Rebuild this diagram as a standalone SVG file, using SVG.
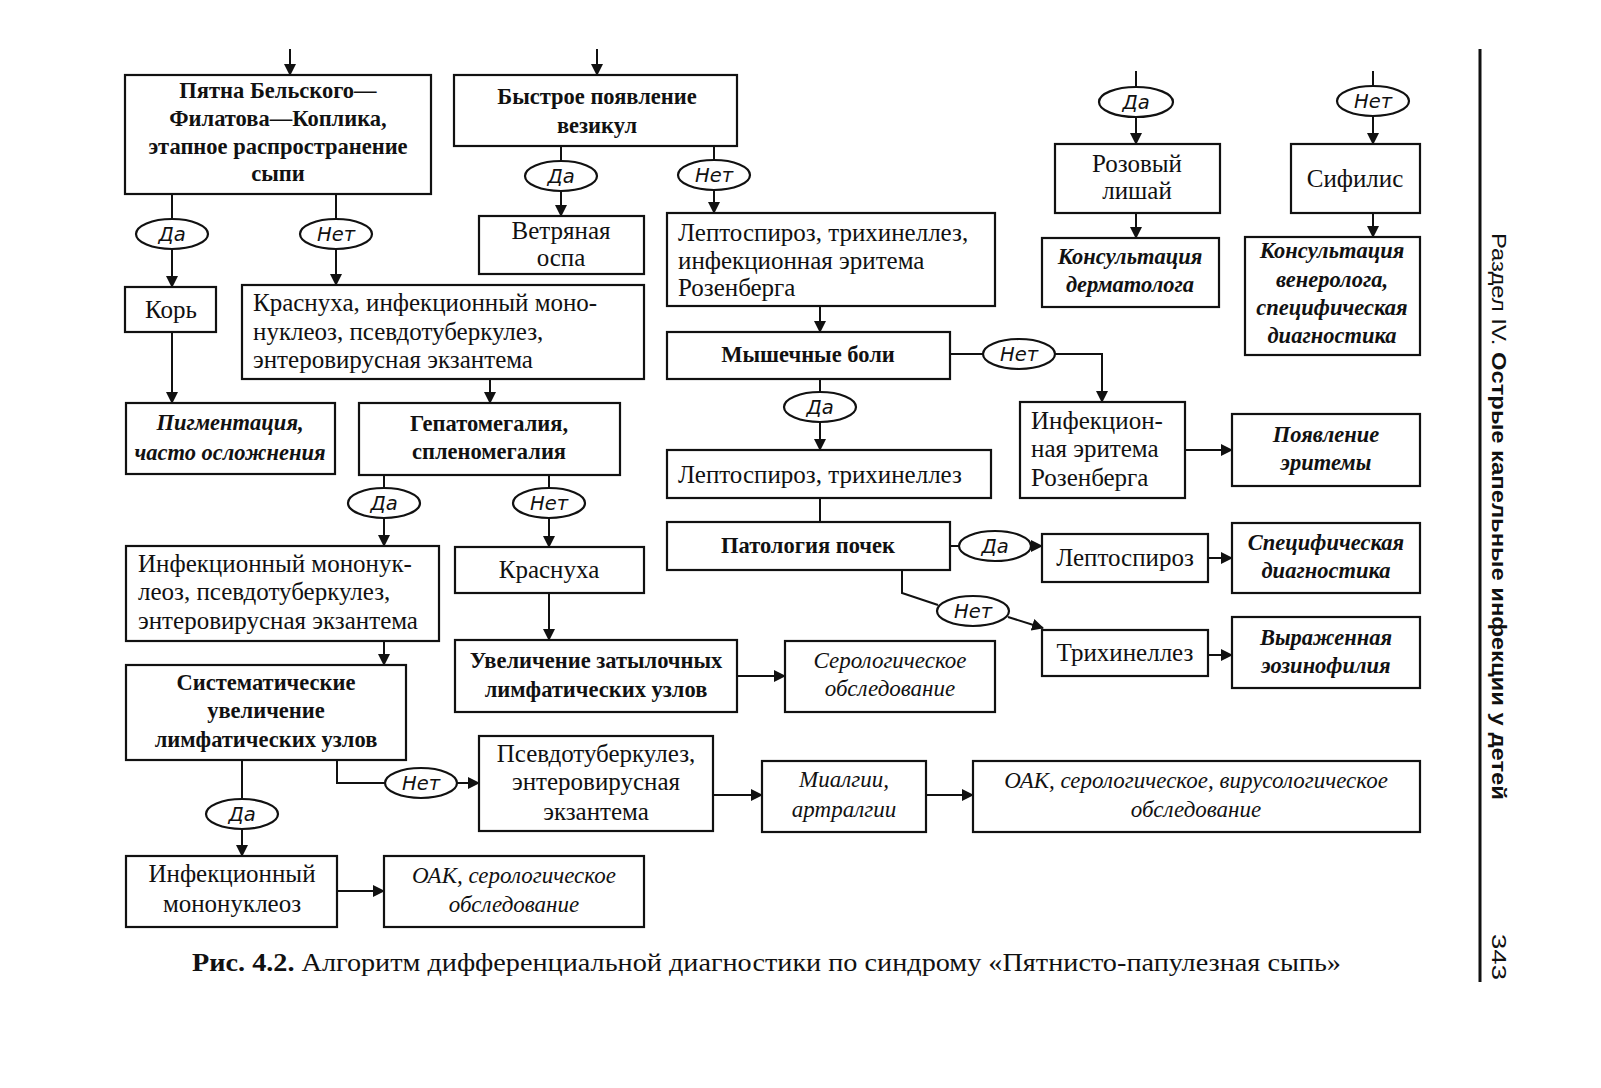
<svg xmlns="http://www.w3.org/2000/svg" width="1601" height="1088" viewBox="0 0 1601 1088">
<defs>
<marker id="ar" markerUnits="userSpaceOnUse" markerWidth="12" markerHeight="12" refX="11" refY="6" orient="auto">
<path d="M0,0 L12,6 L0,12 z" fill="#111"/>
</marker>
<style>
.bx{fill:#fff;stroke:#111;stroke-width:2.2}
.el{fill:#fff;stroke:#111;stroke-width:2.2}
.c{fill:none;stroke:#111;stroke-width:2}
.a{fill:none;stroke:#111;stroke-width:2;marker-end:url(#ar)}
text{fill:#111}
.t{font-family:"Liberation Serif",serif;font-size:25px}
.tb{font-family:"Liberation Serif",serif;font-size:22.5px;font-weight:bold}
.ti{font-family:"Liberation Serif",serif;font-size:23px;font-style:italic}
.tbi{font-family:"Liberation Serif",serif;font-size:22.5px;font-style:italic;font-weight:bold}
.m{text-anchor:middle}
.lb{font-family:"DejaVu Sans",sans-serif;font-size:19.5px;font-style:oblique;text-anchor:middle}
.hd{font-family:"Liberation Sans",sans-serif;font-size:21px}
</style>
</defs>
<rect width="1601" height="1088" fill="#fff"/>

<g id="connectors">
<line class="a" x1="290" y1="49" x2="290" y2="75"/>
<line class="a" x1="597" y1="49" x2="597" y2="75"/>
<line class="c" x1="172" y1="194" x2="172" y2="219"/>
<line class="a" x1="172" y1="249" x2="172" y2="287"/>
<line class="c" x1="336" y1="194" x2="336" y2="219"/>
<line class="a" x1="336" y1="249" x2="336" y2="285"/>
<line class="c" x1="561" y1="146" x2="561" y2="161"/>
<line class="a" x1="561" y1="191" x2="561" y2="216"/>
<line class="c" x1="714" y1="146" x2="714" y2="160"/>
<line class="a" x1="714" y1="190" x2="714" y2="213"/>
<line class="a" x1="172" y1="332" x2="172" y2="403"/>
<line class="a" x1="490" y1="379" x2="490" y2="403"/>
<line class="c" x1="384" y1="475" x2="384" y2="488"/>
<line class="a" x1="384" y1="518" x2="384" y2="546"/>
<line class="c" x1="549" y1="475" x2="549" y2="488"/>
<line class="a" x1="549" y1="518" x2="549" y2="547"/>
<line class="a" x1="384" y1="641" x2="384" y2="665"/>
<line class="a" x1="549" y1="593" x2="549" y2="640"/>
<line class="a" x1="737" y1="676" x2="785" y2="676"/>
<line class="c" x1="242" y1="760" x2="242" y2="799"/>
<line class="a" x1="242" y1="829" x2="242" y2="856"/>
<polyline class="c" points="337,760 337,783 385,783"/>
<line class="a" x1="457" y1="783" x2="479" y2="783"/>
<line class="a" x1="713" y1="795" x2="762" y2="795"/>
<line class="a" x1="926" y1="795" x2="973" y2="795"/>
<line class="a" x1="337" y1="891" x2="384" y2="891"/>
<line class="a" x1="820" y1="306" x2="820" y2="332"/>
<line class="c" x1="950" y1="354" x2="983" y2="354"/>
<polyline class="a" points="1055,354 1102,354 1102,402"/>
<line class="c" x1="820" y1="379" x2="820" y2="392"/>
<line class="a" x1="820" y1="422" x2="820" y2="450"/>
<line class="c" x1="820" y1="498" x2="820" y2="522"/>
<line class="c" x1="950" y1="546" x2="959" y2="546"/>
<line class="a" x1="1031" y1="546" x2="1042" y2="546"/>
<polyline class="c" points="902,570 902,593 938,605"/>
<line class="a" x1="1008" y1="617" x2="1043" y2="628"/>
<line class="a" x1="1185" y1="450" x2="1232" y2="450"/>
<line class="a" x1="1208" y1="558" x2="1232" y2="558"/>
<line class="a" x1="1208" y1="655" x2="1232" y2="655"/>
<line class="c" x1="1136" y1="71" x2="1136" y2="88"/>
<line class="a" x1="1136" y1="117" x2="1136" y2="144"/>
<line class="a" x1="1136" y1="213" x2="1136" y2="238"/>
<line class="c" x1="1373" y1="71" x2="1373" y2="87"/>
<line class="a" x1="1373" y1="116" x2="1373" y2="144"/>
<line class="a" x1="1373" y1="213" x2="1373" y2="237"/>
</g>

<g id="n1"><rect class="bx" x="125" y="75" width="306" height="119"/>
<text class="tb m"><tspan x="278" y="98">Пятна Бельского—</tspan><tspan x="278" y="126">Филатова—Коплика,</tspan><tspan x="278" y="154">этапное распространение</tspan><tspan x="278" y="181">сыпи</tspan></text></g>
<g id="n2"><rect class="bx" x="454" y="75" width="283" height="71"/>
<text class="tb m"><tspan x="597" y="104">Быстрое появление</tspan><tspan x="597" y="133">везикул</tspan></text></g>
<g id="n3"><rect class="bx" x="479" y="216" width="165" height="58"/>
<text class="t m"><tspan x="561" y="239">Ветряная</tspan><tspan x="561" y="266">оспа</tspan></text></g>
<g id="n4"><rect class="bx" x="667" y="213" width="328" height="93"/>
<text class="t"><tspan x="678" y="241">Лептоспироз, трихинеллез,</tspan><tspan x="678" y="269">инфекционная эритема</tspan><tspan x="678" y="296">Розенберга</tspan></text></g>
<g id="n5"><rect class="bx" x="125" y="287" width="91" height="45"/>
<text class="t m" x="171" y="318">Корь</text></g>
<g id="n6"><rect class="bx" x="242" y="285" width="402" height="94"/>
<text class="t"><tspan x="253" y="311">Краснуха, инфекционный моно-</tspan><tspan x="253" y="340">нуклеоз,  псевдотуберкулез,</tspan><tspan x="253" y="368">энтеровирусная экзантема</tspan></text></g>
<g id="n7"><rect class="bx" x="126" y="403" width="209" height="71"/>
<text class="tbi m"><tspan x="230" y="430">Пигментация,</tspan><tspan x="230" y="460">часто осложнения</tspan></text></g>
<g id="n8"><rect class="bx" x="359" y="403" width="261" height="72"/>
<text class="tb m"><tspan x="489" y="431">Гепатомегалия,</tspan><tspan x="489" y="459">спленомегалия</tspan></text></g>
<g id="n9"><rect class="bx" x="667" y="332" width="283" height="47"/>
<text class="tb m" x="808" y="362">Мышечные боли</text></g>
<g id="n10"><rect class="bx" x="667" y="450" width="324" height="48"/>
<text class="t" x="678" y="483">Лептоспироз, трихинеллез</text></g>
<g id="n11"><rect class="bx" x="667" y="522" width="283" height="48"/>
<text class="tb m" x="808" y="553">Патология почек</text></g>
<g id="n12"><rect class="bx" x="1020" y="402" width="165" height="96"/>
<text class="t"><tspan x="1031" y="429">Инфекцион-</tspan><tspan x="1031" y="457">ная эритема</tspan><tspan x="1031" y="486">Розенберга</tspan></text></g>
<g id="n13"><rect class="bx" x="1232" y="414" width="188" height="72"/>
<text class="tbi m"><tspan x="1326" y="442">Появление</tspan><tspan x="1326" y="470">эритемы</tspan></text></g>
<g id="n14"><rect class="bx" x="1042" y="534" width="166" height="48"/>
<text class="t m" x="1125" y="566">Лептоспироз</text></g>
<g id="n15"><rect class="bx" x="1232" y="523" width="188" height="70"/>
<text class="tbi m"><tspan x="1326" y="550">Специфическая</tspan><tspan x="1326" y="578">диагностика</tspan></text></g>
<g id="n16"><rect class="bx" x="1042" y="630" width="166" height="46"/>
<text class="t m" x="1125" y="661">Трихинеллез</text></g>
<g id="n17"><rect class="bx" x="1232" y="617" width="188" height="71"/>
<text class="tbi m"><tspan x="1326" y="645">Выраженная</tspan><tspan x="1326" y="673">эозинофилия</tspan></text></g>
<g id="n18"><rect class="bx" x="126" y="546" width="313" height="95"/>
<text class="t"><tspan x="138" y="572">Инфекционный мононук-</tspan><tspan x="138" y="600">леоз,  псевдотуберкулез,</tspan><tspan x="138" y="629">энтеровирусная экзантема</tspan></text></g>
<g id="n19"><rect class="bx" x="455" y="547" width="189" height="46"/>
<text class="t m" x="549" y="578">Краснуха</text></g>
<g id="n20"><rect class="bx" x="126" y="665" width="280" height="95"/>
<text class="tb m"><tspan x="266" y="690">Систематические</tspan><tspan x="266" y="718">увеличение</tspan><tspan x="266" y="747">лимфатических узлов</tspan></text></g>
<g id="n21"><rect class="bx" x="455" y="640" width="282" height="72"/>
<text class="tb m"><tspan x="596" y="668">Увеличение затылочных</tspan><tspan x="596" y="697">лимфатических узлов</tspan></text></g>
<g id="n22"><rect class="bx" x="785" y="641" width="210" height="71"/>
<text class="ti m"><tspan x="890" y="668">Серологическое</tspan><tspan x="890" y="696">обследование</tspan></text></g>
<g id="n23"><rect class="bx" x="479" y="736" width="234" height="95"/>
<text class="t m"><tspan x="596" y="762">Псевдотуберкулез,</tspan><tspan x="596" y="790">энтеровирусная</tspan><tspan x="596" y="820">экзантема</tspan></text></g>
<g id="n24"><rect class="bx" x="762" y="761" width="164" height="71"/>
<text class="ti m"><tspan x="844" y="787">Миалгии,</tspan><tspan x="844" y="817">артралгии</tspan></text></g>
<g id="n25"><rect class="bx" x="973" y="761" width="447" height="71"/>
<text class="ti m"><tspan x="1196" y="788">ОАК, серологическое, вирусологическое</tspan><tspan x="1196" y="817">обследование</tspan></text></g>
<g id="n26"><rect class="bx" x="126" y="856" width="211" height="71"/>
<text class="t m"><tspan x="232" y="882">Инфекционный</tspan><tspan x="232" y="912">мононуклеоз</tspan></text></g>
<g id="n27"><rect class="bx" x="384" y="856" width="260" height="71"/>
<text class="ti m"><tspan x="514" y="883">ОАК, серологическое</tspan><tspan x="514" y="912">обследование</tspan></text></g>
<g id="n28"><rect class="bx" x="1055" y="144" width="165" height="69"/>
<text class="t m"><tspan x="1137" y="172">Розовый</tspan><tspan x="1137" y="199">лишай</tspan></text></g>
<g id="n29"><rect class="bx" x="1042" y="238" width="177" height="69"/>
<text class="tbi m"><tspan x="1130" y="264">Консультация</tspan><tspan x="1130" y="292">дерматолога</tspan></text></g>
<g id="n30"><rect class="bx" x="1291" y="144" width="129" height="69"/>
<text class="t m" x="1355" y="187">Сифилис</text></g>
<g id="n31"><rect class="bx" x="1245" y="237" width="175" height="118"/>
<text class="tbi m"><tspan x="1332" y="258">Консультация</tspan><tspan x="1332" y="287">венеролога,</tspan><tspan x="1332" y="315">специфическая</tspan><tspan x="1332" y="343">диагностика</tspan></text></g>

<g id="e1"><ellipse class="el" cx="172" cy="234" rx="36" ry="15"/><text class="lb" x="172" y="241">Да</text></g>
<g id="e2"><ellipse class="el" cx="336" cy="234" rx="36" ry="15"/><text class="lb" x="336" y="241">Нет</text></g>
<g id="e3"><ellipse class="el" cx="561" cy="176" rx="36" ry="15"/><text class="lb" x="561" y="183">Да</text></g>
<g id="e4"><ellipse class="el" cx="714" cy="175" rx="36" ry="15"/><text class="lb" x="714" y="182">Нет</text></g>
<g id="e5"><ellipse class="el" cx="1136" cy="102" rx="37" ry="15"/><text class="lb" x="1136" y="109">Да</text></g>
<g id="e6"><ellipse class="el" cx="1373" cy="101" rx="36" ry="15"/><text class="lb" x="1373" y="108">Нет</text></g>
<g id="e7"><ellipse class="el" cx="1019" cy="354" rx="36" ry="15"/><text class="lb" x="1019" y="361">Нет</text></g>
<g id="e8"><ellipse class="el" cx="820" cy="407" rx="36" ry="15"/><text class="lb" x="820" y="414">Да</text></g>
<g id="e9"><ellipse class="el" cx="384" cy="503" rx="36" ry="15"/><text class="lb" x="384" y="510">Да</text></g>
<g id="e10"><ellipse class="el" cx="549" cy="503" rx="36" ry="15"/><text class="lb" x="549" y="510">Нет</text></g>
<g id="e11"><ellipse class="el" cx="995" cy="546" rx="36" ry="15"/><text class="lb" x="995" y="553">Да</text></g>
<g id="e12"><ellipse class="el" cx="973" cy="611" rx="36" ry="15"/><text class="lb" x="973" y="618">Нет</text></g>
<g id="e13"><ellipse class="el" cx="421" cy="783" rx="36" ry="15"/><text class="lb" x="421" y="790">Нет</text></g>
<g id="e14"><ellipse class="el" cx="242" cy="814" rx="36" ry="15"/><text class="lb" x="242" y="821">Да</text></g>

<g id="caption">
<text class="t" x="192" y="971" font-size="24" textLength="1149" lengthAdjust="spacingAndGlyphs"><tspan font-weight="bold">Рис. 4.2.</tspan> Алгоритм дифференциальной диагностики по синдрому «Пятнисто-папулезная сыпь»</text>
</g>
<g id="header">
<line x1="1480" y1="49" x2="1480" y2="982" stroke="#111" stroke-width="3"/>
<text class="hd" transform="translate(1492,233) rotate(90)" textLength="567" lengthAdjust="spacingAndGlyphs">Раздел IV. <tspan font-weight="bold">Острые капельные инфекции у детей</tspan></text>
<text class="hd" transform="translate(1492,934) rotate(90)" font-size="22" textLength="46" lengthAdjust="spacingAndGlyphs">343</text>
</g>
</svg>
